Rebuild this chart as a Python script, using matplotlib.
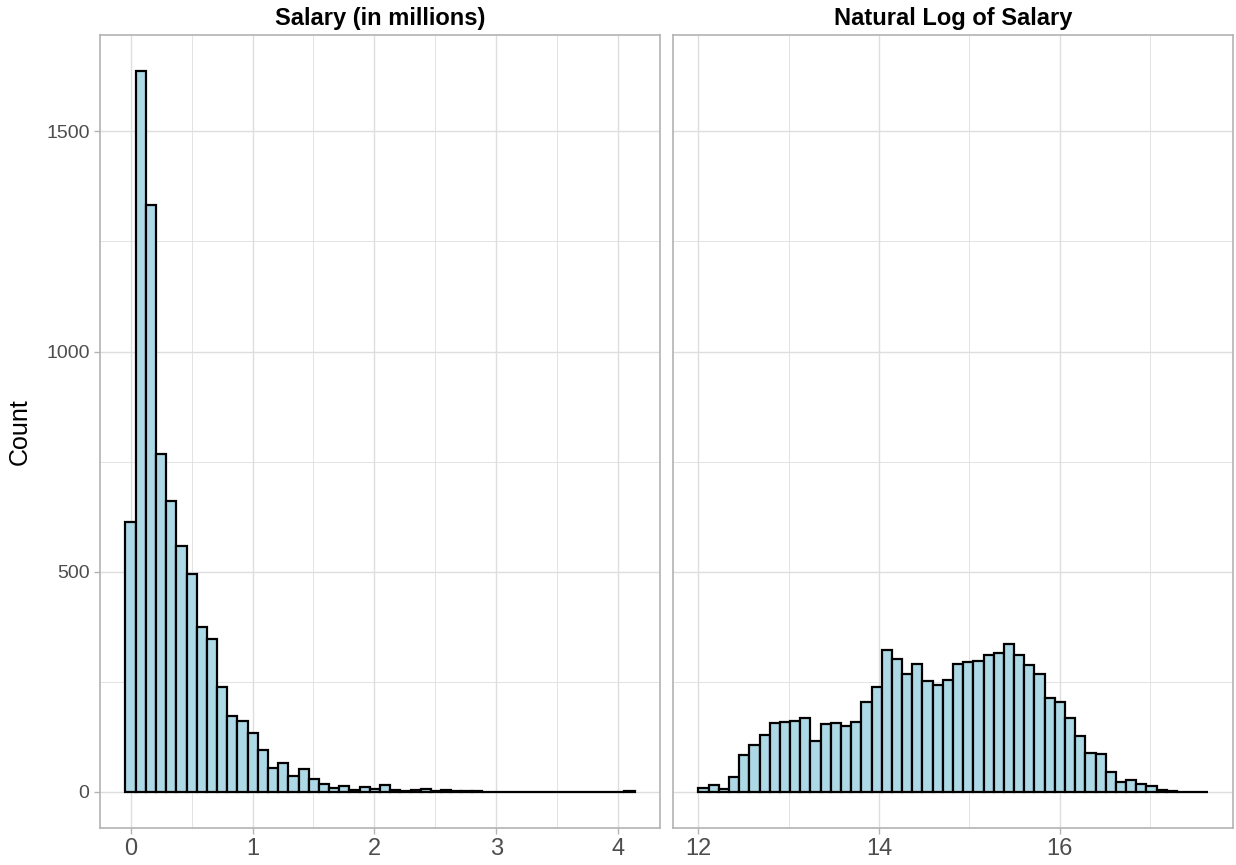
import numpy as np
import matplotlib
matplotlib.use("Agg")
import matplotlib.pyplot as plt

plt.rcParams['font.family'] = ['Liberation Sans', 'DejaVu Sans']

# histogram counts, 50 bins per panel
salary_counts = [614, 1637, 1332, 767, 660, 558, 494, 375, 347, 239,
                 173, 161, 134, 96, 55, 66, 36, 53, 30, 19,
                 10, 13, 5, 12, 6, 15, 5, 2, 4, 6,
                 3, 5, 3, 2, 2, 1, 1, 1, 1, 0,
                 1, 1, 0, 1, 0, 0, 0, 0, 0, 2]
salary_bin_start = -0.042
salary_bin_width = 0.0835

log_counts = [9, 15, 6, 35, 84, 107, 130, 157, 158, 162,
              167, 116, 155, 157, 149, 158, 204, 238, 323, 302,
              267, 290, 252, 243, 255, 291, 294, 298, 310, 315,
              337, 311, 288, 268, 214, 204, 168, 127, 89, 86,
              45, 23, 28, 17, 14, 4, 3, 1, 1, 1]
log_bin_start = 12.0
log_bin_width = 0.1127

panel_titles = ["Salary (in millions)", "Natural Log of Salary"]
y_ticks = [0, 500, 1000, 1500]
salary_ticks = [0, 1, 2, 3, 4]
log_ticks = [12, 14, 16]

W, H = 1236, 865
fig = plt.figure(figsize=(W / 100, H / 100), dpi=100)
ax1 = fig.add_axes([100 / W, 37 / H, 560 / W, 793 / H])
ax2 = fig.add_axes([673 / W, 37 / H, 560 / W, 793 / H], sharey=ax1)

grid_col = '#dedede'
border_col = '#b3b3b3'


def draw_hist(ax, counts, start, width, ticks, title):
    counts = np.array(counts)
    lefts = start + width * np.arange(len(counts))
    ax.bar(lefts, counts, width=width, align='edge', color='#ADD8E6',
           edgecolor='black', linewidth=1.6, zorder=3)
    step = ticks[1] - ticks[0]
    minor = [ticks[0] - step / 2] + [t + step / 2 for t in ticks]
    ax.set_xticks(ticks)
    ax.set_xticks(minor, minor=True)
    # limits after ticks so the minor ticks don't widen the view
    lo, hi = lefts[0], lefts[-1] + width
    pad = 0.05 * (hi - lo)
    ax.set_xlim(lo - pad, hi + pad)
    ax.set_yticks(y_ticks)
    ax.set_yticks([250, 750, 1250], minor=True)
    ax.grid(which='major', color=grid_col, linewidth=1.0, zorder=0)
    ax.grid(which='minor', color=grid_col, linewidth=0.6, zorder=0)
    for s in ax.spines.values():
        s.set_color(border_col)
        s.set_linewidth(1.2)
    ax.tick_params(which='major', color=border_col, length=4, width=1,
                   labelcolor='#4d4d4d', labelsize=14)
    ax.tick_params(axis='x', labelsize=17)
    ax.tick_params(which='minor', length=0)
    ax.set_title(title, fontsize=17, fontweight='bold', pad=7)


draw_hist(ax1, salary_counts, salary_bin_start, salary_bin_width,
          salary_ticks, panel_titles[0])
draw_hist(ax2, log_counts, log_bin_start, log_bin_width,
          log_ticks, panel_titles[1])

peak = max(max(salary_counts), max(log_counts))
ax1.set_ylim(-0.05 * peak, 1.05 * peak)
ax2.tick_params(axis='y', left=False, labelleft=False)
ax1.set_ylabel("Count", fontsize=18, labelpad=10)

fig.savefig("out.png", dpi=100)
